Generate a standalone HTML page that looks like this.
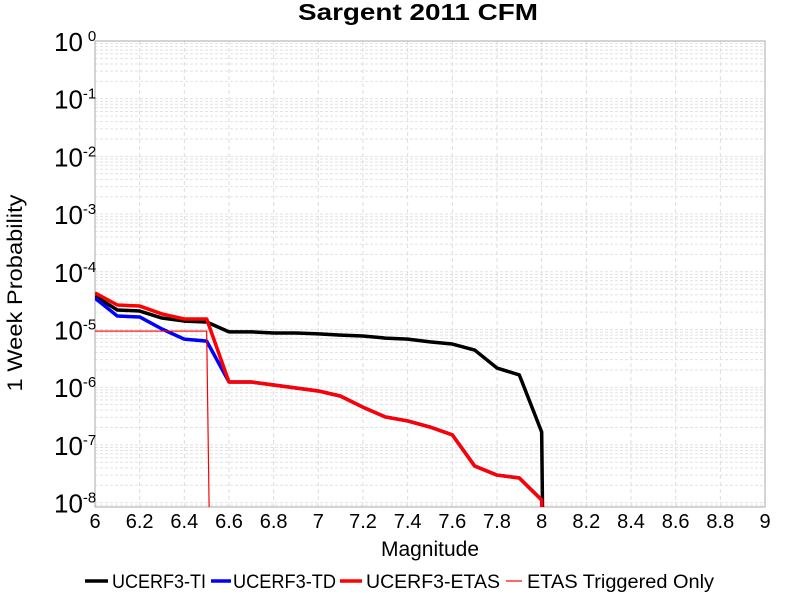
<!DOCTYPE html>
<html><head><meta charset="utf-8"><style>
html,body{margin:0;background:#fff;overflow:hidden;width:800px;height:600px;}
svg{display:block;font-family:"Liberation Sans",sans-serif;}
</style></head><body>
<svg id="chart" width="800" height="600"></svg>
<script>
const magnitudes=[6.0,6.1,6.2,6.3,6.4,6.5,6.6,6.7,6.8,6.9,7.0,7.1,7.2,7.3,7.4,7.5,7.6,7.7,7.8,7.9,8.0];
const tiValues=[3.8e-5,2.18e-5,2.09e-5,1.58e-5,1.40e-5,1.35e-5,9.1e-6,9.1e-6,8.7e-6,8.7e-6,8.4e-6,8.0e-6,7.7e-6,7.1e-6,6.8e-6,6.1e-6,5.6e-6,4.4e-6,2.15e-6,1.63e-6,1.67e-7];
const tdValues=[3.5e-5,1.71e-5,1.65e-5,1.02e-5,6.8e-6,6.3e-6,1.23e-6,1.23e-6,1.09e-6,9.7e-7,8.6e-7,7.0e-7,4.5e-7,3.05e-7,2.6e-7,2.04e-7,1.49e-7,4.3e-8,3.0e-8,2.67e-8,1.11e-8];
const etasValues=[4.3e-5,2.66e-5,2.55e-5,1.86e-5,1.52e-5,1.52e-5,1.23e-6,1.23e-6,1.09e-6,9.7e-7,8.6e-7,7.0e-7,4.5e-7,3.05e-7,2.6e-7,2.04e-7,1.49e-7,4.3e-8,3.0e-8,2.67e-8,1.11e-8];
const trigMags=[6.0,6.1,6.2,6.3,6.4,6.5,6.525];
const trigValues=[9.4e-6,9.4e-6,9.4e-6,9.4e-6,9.4e-6,9.4e-6,1e-12];
const xTicks=[6,6.2,6.4,6.6,6.8,7,7.2,7.4,7.6,7.8,8,8.2,8.4,8.6,8.8,9];
const xTickLabels=["6","6.2","6.4","6.6","6.8","7","7.2","7.4","7.6","7.8","8","8.2","8.4","8.6","8.8","9"];
const yDecades=[0,-1,-2,-3,-4,-5,-6,-7,-8];

const L=95,R=765,T=41,B=507,DEC=57.7;
const xS=m=>L+(m-6)/3*(R-L);
const yS=v=>T-Math.log10(v)*DEC;
const NS="http://www.w3.org/2000/svg";
const svg=document.getElementById('chart');
function el(tag,attrs,parent){const e=document.createElementNS(NS,tag);for(const k in attrs)e.setAttribute(k,attrs[k]);(parent||svg).appendChild(e);return e;}

const defs=el('defs',{});
const cp=el('clipPath',{id:'clip'},defs);
el('rect',{x:L,y:T,width:R-L,height:B-T},cp);

const grid=el('g',{});


for(const d of yDecades){
  for(let k=1;k<10;k++){
    const y=yS(k*Math.pow(10,d-1));
    if(y<T||y>B)continue;
    el('line',{x1:L,x2:R,y1:y,y2:y,stroke:'#e2e2e2','stroke-width':1,'stroke-dasharray':'3,2'},grid);
  }
}
for(const t of xTicks){
  el('line',{x1:xS(t),x2:xS(t),y1:T,y2:B,stroke:'#dddddd','stroke-width':1,'stroke-dasharray':'4,3'},grid);
}
const frame=el('rect',{x:L,y:T,width:R-L,height:B-T,fill:'none',stroke:'#aaaaaa','stroke-width':1});



function series(xs,vals,color,w,name){
  const pts=xs.map((m,i)=>xS(m)+','+yS(vals[i])).join(' ');
  const p=el('polyline',{points:pts,fill:'none',stroke:color,'stroke-width':w,'stroke-linejoin':'round','clip-path':'url(#clip)'});
  
  
}
series(magnitudes.concat([8.015]),tiValues.concat([1e-12]),'#000',3.5,'ucerf3-ti-line');
series(magnitudes.concat([8.005]),tdValues.concat([1e-12]),'#0000ff',3.5,'ucerf3-td-line');
series(magnitudes.concat([8.005]),etasValues.concat([1e-12]),'#ff0000',3.5,'ucerf3-etas-line');
series(trigMags,trigValues,'#ff0000',1.2,'etas-triggered-line');

const xt=el('g',{});


xTicks.forEach((t,i)=>{
  const tx=el('text',{x:xS(t),y:528,'text-anchor':'middle','font-size':20,fill:'#000'},xt);
  tx.textContent=xTickLabels[i];
});
const yt=el('g',{});


for(const d of yDecades){
  const y=yS(Math.pow(10,d));
  const tx=el('text',{x:54,y:y+10,'font-size':26,fill:'#000'},yt);
  tx.textContent='10';
  const sp=el('tspan',{dx:(d===0?5:0),dy:-10,'font-size':15},tx);
  sp.textContent=String(d);
}

function t(x,y,s,txt,name,extra){const e=el('text',Object.assign({x:x,y:y,'font-size':s},extra||{}));e.textContent=txt;return e;}
t(298,20,23,'Sargent 2011 CFM','chart-title',{'font-weight':'bold',textLength:240,lengthAdjust:'spacingAndGlyphs'});
t(430,556,21,'Magnitude','x-axis-title',{'text-anchor':'middle'});
t(22,293,21,'1 Week Probability','y-axis-title',{'text-anchor':'middle',textLength:197,lengthAdjust:'spacingAndGlyphs',transform:'rotate(-90 22 293)'});
const items=[[85,108,'#000',3.5,112,'UCERF3-TI',94],[211,231,'#0000ff',3.5,233,'UCERF3-TD',103],[340,362,'#ff0000',3.5,366,'UCERF3-ETAS',134],[506,522,'#ff0000',1.2,527,'ETAS Triggered Only',187]];
items.forEach(it=>{
  const g=el('g',{});
  
  
  el('line',{x1:it[0],x2:it[1],y1:581,y2:581,stroke:it[2],'stroke-width':it[3]},g);
  const tx=el('text',{x:it[4],y:588,'font-size':19,textLength:it[6],lengthAdjust:'spacingAndGlyphs'},g);
  tx.textContent=it[5];
});
</script>
</body></html>
